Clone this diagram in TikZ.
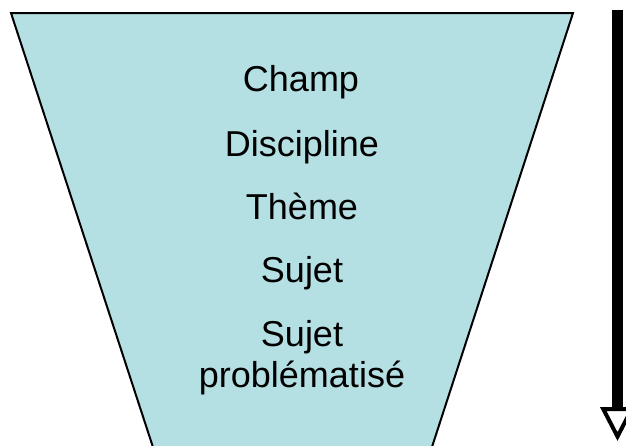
\documentclass[tikz,border=0pt]{standalone}
\usepackage{fontspec}
\setmainfont{Liberation Sans}
\usetikzlibrary{arrows.meta}
\definecolor{entonnoir}{RGB}{180,224,228}

\begin{document}
\begin{tikzpicture}[x=1pt, y=-1pt,
    niveau/.style={anchor=base, font=\fontsize{36}{41}\selectfont, align=center, inner sep=0pt}]
        \useasboundingbox (0,0) rectangle (626,445);
        \begin{scope}
            \clip (0,0) rectangle (626,445);
            \draw[fill=entonnoir, line width=2pt, line join=miter] (11,13) -- (573,13) -- (418,490) -- (167,490) -- cycle;
        \end{scope}
        \node[niveau] (champ) at (301,91) {Champ};
        \node[niveau] (discipline) at (302,156) {Discipline};
        \node[niveau] (theme) at (302,219) {Thème};
        \node[niveau] (sujet) at (302,282) {Sujet};
        \node[niveau, anchor=north] (sujetpb) at (302,320) {Sujet\\probl\'ematis\'e};
        \coordinate (haut) at (617.5,10);
        \coordinate (bas) at (617.5,441);
        \draw[line width=11pt, -{Triangle[open, length=34pt, width=34pt, line width=4pt]}] (haut) -- (bas);
    \end{tikzpicture}
\end{document}
